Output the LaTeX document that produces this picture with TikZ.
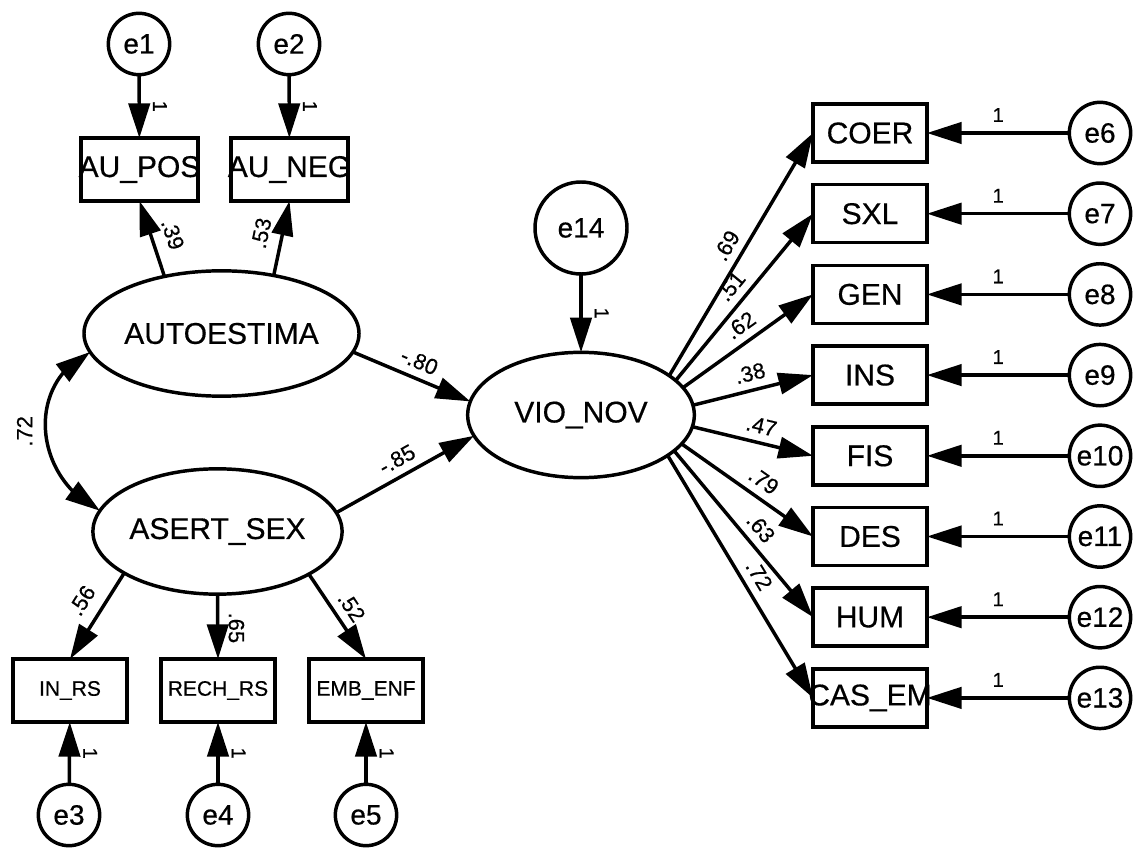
\documentclass[tikz,border=0pt]{standalone}
\usepackage{fontspec}
\setmainfont[FakeBold=0.5]{Liberation Sans}
\usetikzlibrary{arrows.meta,shapes.geometric,bending}
\newcommand{\zw}[1]{\makebox[0pt]{#1}}
\begin{document}
\begin{tikzpicture}[x=0.75pt,y=0.75pt,
  line width=2.6pt,
  every node/.style={inner sep=0pt, outer sep=0pt},
  arr/.style={-{Triangle[length=26pt,width=16pt]}},
  darr/.style={{Triangle[length=26pt,width=16pt,flex]}-{Triangle[length=26pt,width=16pt,flex]}},
  err/.style={circle, draw, minimum size=46pt, font=\fontsize{21}{24}\selectfont},
  bigerr/.style={circle, draw, minimum size=69pt, font=\fontsize{21}{24}\selectfont},
  lat/.style={ellipse, draw, minimum width=170pt, minimum height=94pt, font=\fontsize{22.5}{26}\selectfont},
  obs/.style={rectangle, draw, minimum width=85.5pt, minimum height=43.5pt, font=\fontsize{22.5}{26}\selectfont},
  obsa/.style={rectangle, draw, minimum width=87.75pt, minimum height=47.25pt, font=\fontsize{22.5}{26}\selectfont},
  obsb/.style={rectangle, draw, minimum width=85.5pt, minimum height=47.25pt, font=\fontsize{15.75}{18}\selectfont},
  cnum/.style={font=\fontsize{16.5}{18}\selectfont, inner sep=1pt},
  coef/.style={cnum, sloped, above=6pt},
  coefw/.style={cnum, sloped, above=9pt},
  one/.style={font=\fontsize{15}{17}\selectfont},
]
\useasboundingbox[fill=white] (0,0) rectangle (1135,-848);

% left part
\node[err] (e1) at (139,-44) {e1};
\node[err] (e2) at (289,-44) {e2};
\node[obsa] (aupos) at (139.5,-169.5) {\zw{AU\_POS}};
\node[obsa] (auneg) at (289.5,-169.5) {\zw{AU\_NEG}};
\node[lat] (auto) at (221.5,-333.5) {AUTOESTIMA};
\node[lat] (asert) at (217.5,-531.5) {ASERT\_SEX};
\node[obsb] (inrs) at (70,-690.5) {IN\_RS};
\node[obsb] (rechrs) at (218,-690.5) {RECH\_RS};
\node[obsb] (embenf) at (366,-690.5) {EMB\_ENF};
\node[err] (e3) at (69,-815) {e3};
\node[err] (e4) at (218,-815) {e4};
\node[err] (e5) at (366,-815) {e5};

% centre
\node[lat] (vio) at (581,-415) {VIO\_NOV};
\node[bigerr] (e14) at (581,-228) {e14};

% right part
\node[obs] (coer) at (870,-133) {COER};
\node[obs] (sxl) at (870,-213.7) {SXL};
\node[obs] (gen) at (870,-294.4) {GEN};
\node[obs] (ins) at (870,-375.1) {INS};
\node[obs] (fis) at (870,-455.8) {FIS};
\node[obs] (des) at (870,-536.5) {DES};
\node[obs] (hum) at (870,-617.2) {HUM};
\node[obs] (casem) at (870,-697.9) {\zw{CAS\_EM}};
\node[err] (e6) at (1100,-133) {e6};
\node[err] (e7) at (1100,-213.7) {e7};
\node[err] (e8) at (1100,-294.4) {e8};
\node[err] (e9) at (1100,-375.1) {e9};
\node[err] (e10) at (1100,-455.8) {e10};
\node[err] (e11) at (1100,-536.5) {e11};
\node[err] (e12) at (1100,-617.2) {e12};
\node[err] (e13) at (1100,-697.9) {e13};

% error arrows, left and centre
\draw[arr] (e1) -- (aupos) node[midway, xshift=15.5pt, rotate=-90, one] {1};
\draw[arr] (e2) -- (auneg) node[midway, xshift=15.5pt, rotate=-90, one] {1};
\draw[arr] (e3) -- (inrs) node[midway, xshift=15.5pt, rotate=-90, one] {1};
\draw[arr] (e4) -- (rechrs) node[midway, xshift=15.5pt, rotate=-90, one] {1};
\draw[arr] (e5) -- (embenf) node[midway, xshift=15.5pt, rotate=-90, one] {1};
\draw[arr] (e14) -- (vio) node[midway, xshift=15.5pt, rotate=-90, one] {1};

% loadings, left
\draw[arr] (auto.135.5) -- (aupos.south) node[coefw, pos=0.47] {.39};
\draw[arr] (auto.48.7) -- (auneg.south) node[coefw, pos=0.51] {.53};
\draw[arr] (asert.204.6) -- (inrs.north) node[coefw, pos=0.45] {.56};
\draw[arr] (asert.south) -- (rechrs.north) node[pos=0.52, xshift=14pt, rotate=-90, cnum] {.65};
\draw[arr] (asert.335.8) -- (embenf.north) node[coef, pos=0.5] {.52};

% structural paths
\draw[arr] (auto.352.7) -- (vio.173) node[coef, pos=0.51] {-.80};
\draw[arr] (asert.9.4) -- (vio.191.5) node[coef, pos=0.5] {-.85};
\draw[darr] (auto.188.4) to[out=206, in=154, looseness=1.18]
  node[midway, xshift=-15.75pt, rotate=90, cnum] {.72} (asert.170.4);

% loadings, right
\draw[arr] (vio.24.4) -- (coer.west) node[coef, pos=0.5] {.69};
\draw[arr] (vio.20.8) -- (sxl.west) node[coef, pos=0.5] {.51};
\draw[arr] (vio.15.0) -- (gen.west) node[coef, pos=0.52] {.62};
\draw[arr] (vio.5.8) -- (ins.west) node[coef, pos=0.51] {.38};
\draw[arr] (vio.354.1) -- (fis.west) node[coef, pos=0.54] {.47};
\draw[arr] (vio.344.9) -- (des.west) node[coef, pos=0.55] {.79};
\draw[arr] (vio.339.2) -- (hum.west) node[coef, pos=0.53] {.63};
\draw[arr] (vio.335.6) -- (casem.west) node[coef, pos=0.53] {.72};

% error arrows, right
\draw[arr] (e6) -- (coer) node[midway, yshift=13.5pt, one] {1};
\draw[arr] (e7) -- (sxl) node[midway, yshift=13.5pt, one] {1};
\draw[arr] (e8) -- (gen) node[midway, yshift=13.5pt, one] {1};
\draw[arr] (e9) -- (ins) node[midway, yshift=13.5pt, one] {1};
\draw[arr] (e10) -- (fis) node[midway, yshift=13.5pt, one] {1};
\draw[arr] (e11) -- (des) node[midway, yshift=13.5pt, one] {1};
\draw[arr] (e12) -- (hum) node[midway, yshift=13.5pt, one] {1};
\draw[arr] (e13) -- (casem) node[midway, yshift=13.5pt, one] {1};
\end{tikzpicture}
\end{document}
